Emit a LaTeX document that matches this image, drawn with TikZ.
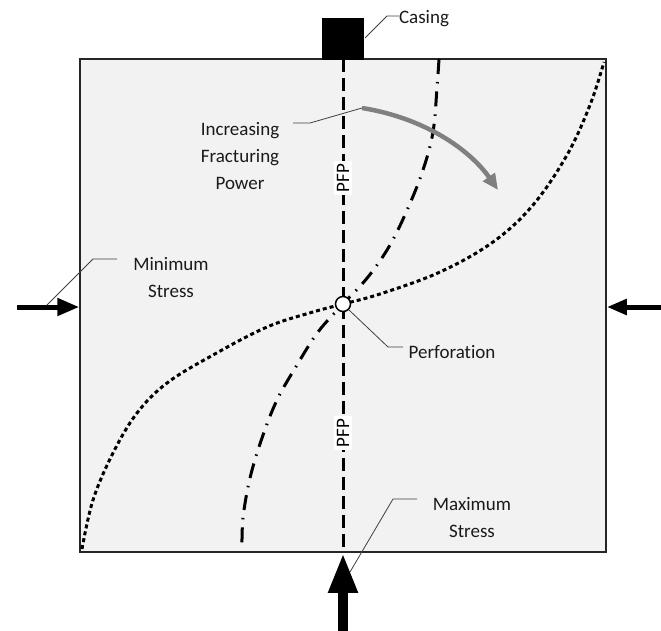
\documentclass[tikz,border=0pt]{standalone}
\usepackage{fontspec}
\setmainfont[Ligatures=NoCommon]{Carlito}
\usetikzlibrary{arrows.meta}
\definecolor{boxfill}{HTML}{F2F2F2}
\definecolor{leadc}{HTML}{404040}
\definecolor{powc}{HTML}{808080}
\definecolor{txtc}{HTML}{1A1A1A}
\begin{document}
\begin{tikzpicture}[x=1pt,y=-1pt,
  lbl/.style={font=\fontsize{19}{27}\selectfont, text=txtc, align=center, inner sep=0pt},
  leader/.style={draw=leadc, line width=0.8pt},
  pfp/.style={font=\fontsize{19}{22}\selectfont, rotate=90, fill=white, inner sep=2.5pt},
  fracline/.style={line width=3pt},
  bigarrow/.style={line width=5pt, -{Triangle[length=22pt,width=17pt]}}
]
\useasboundingbox (0,0) rectangle (661,630);
% block
\node[draw=black!85, line width=1.5pt, fill=boxfill, minimum width=526pt, minimum height=493pt, inner sep=0pt] (box) at (343,305.5) {};
% casing
\fill[black] (322,18) rectangle (364,59.5);
\coordinate (castop) at (343,59);
\coordinate (casbot) at (343,552);
% PFP dashed line
\draw[fracline, dash pattern=on 13pt off 6pt] (castop) -- (casbot);
% dash-dot curve
\draw[fracline, dash pattern=on 15pt off 8pt on 1.5pt off 8pt] plot[smooth, tension=0.6] coordinates {(439,59) (437,88) (433,132) (423,170) (408,208) (390,245) (368,277) (343,304) (318,332) (297,365) (277,400) (262,438) (250,478) (243,518) (242,550)};
% dotted curve
\draw[fracline, dash pattern=on 4pt off 3pt] plot[smooth, tension=0.6] coordinates {(82,549) (93,500) (113,453) (137,413) (167,383) (213,355) (267,327) (313,312) (343,304) (380,294) (440,272) (493,242) (533,205) (567,155) (590,105) (604,62)};
% PFP labels
\node[pfp] (pfp1) at (343,178) {PFP};
\node[pfp] (pfp2) at (343,433) {PFP};
% fracturing power arrow
\coordinate (fps) at (362,108);
\coordinate (fpe) at (498,190);
\draw[powc, line width=4.5pt, -{Triangle[length=16pt,width=14pt]}] (fps) .. controls (425,118) and (470,150) .. (fpe);
% stress arrows
\coordinate (la) at (17,307);
\coordinate (ra) at (661,307);
\coordinate (ba) at (343,632);
\draw[bigarrow] (la) -- (box.west |- la);
\draw[line width=5pt, -{Triangle[length=20pt,width=15pt]}] (ra) -- (box.east |- ra);
\draw[line width=10pt, -{Triangle[length=40pt,width=27pt]}] (ba) -- (box.south);
% perforation
\node[circle, draw=black, line width=1.5pt, fill=white, minimum size=15pt, inner sep=0pt] (perf) at (343,304) {};
% labels
\node[lbl] (tcas) at (424,19) {Casing};
\node[lbl] (tinc) at (240,156) {Increasing\\Fracturing\\Power};
\node[lbl] (tmin) at (171,278) {Minimum\\Stress};
\node[lbl] (tperf) at (452,352) {Perforation};
\node[lbl] (tmax) at (472,518) {Maximum\\Stress};
% leaders
\coordinate (c1) at (365,38);
\draw[leader] (c1) -- (387,16) -- (tcas.west |- 0,16);
\draw[leader] (fps) -- (310,123) -- (293,123);
\coordinate (c3) at (47,305);
\draw[leader] (c3) -- (93,259) -- (117,259);
\draw[leader] (perf.south east) -- (388,347) -- (403,347);
\coordinate (c5) at (350,572);
\draw[leader] (c5) -- (393,499) -- (417,499);
\end{tikzpicture}
\end{document}
